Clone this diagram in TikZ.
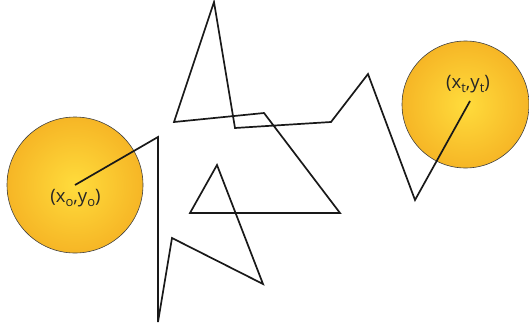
\documentclass[tikz,border=0pt]{standalone}
\usepackage{fontspec}
\setmainfont{Open Sans}
\definecolor{yin}{RGB}{255,220,60}
\definecolor{yout}{RGB}{238,148,18}
\newcommand{\lowsub}[1]{\raisebox{-0.45ex}{\fontsize{13}{13}\selectfont #1}}
\tikzset{
  ball/.style={circle, draw=black!75, line width=0.6pt, inner sep=0pt,
    path picture={\shade[inner color=yin, outer color=yout] (path picture bounding box.center) circle (#1);}},
  walk/.style={draw=black!90, line width=1.7pt, line join=miter},
  lbl/.style={font=\fontsize{18.5}{20}\selectfont, text=black!85, inner sep=0pt}
}
\begin{document}
\begin{tikzpicture}[x=1pt,y=-1pt]
\useasboundingbox (0,0) rectangle (529,327);
\node[ball=128pt, minimum size=136pt] (c0) at (75,185) {};
\node[ball=120pt, minimum size=127pt] (ct) at (465.5,104.5) {};
\node[lbl] (l0) at (75.5,198) {(x\lowsub{o},y\lowsub{o})};
\node[lbl] (lt) at (468,84) {(x\lowsub{t},y\lowsub{t})};
\coordinate (p1) at (158,137);
\coordinate (p2) at (158,322);
\coordinate (p3) at (172,238);
\coordinate (p4) at (263,284);
\coordinate (p5) at (217,165);
\coordinate (p6) at (190,213);
\coordinate (p7) at (340,213);
\coordinate (p8) at (264,113);
\coordinate (p9) at (174,122);
\coordinate (p10) at (214,2);
\coordinate (p11) at (235,128);
\coordinate (p12) at (331,122);
\coordinate (p13) at (368,74);
\coordinate (p14) at (415,200);
\coordinate (pe) at (470,101);
\draw[walk] (c0.center) -- (p1) -- (p2) -- (p3) -- (p4) -- (p5) -- (p6) -- (p7) -- (p8) -- (p9) -- (p10) -- (p11) -- (p12) -- (p13) -- (p14) -- (pe);
\end{tikzpicture}
\end{document}
